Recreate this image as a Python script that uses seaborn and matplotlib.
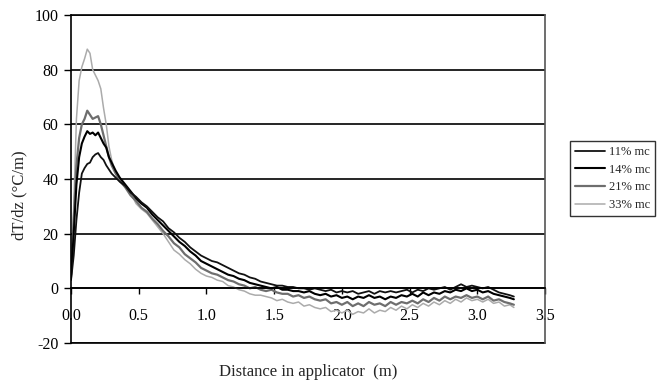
import numpy as np
import pandas as pd
import seaborn as sns
import matplotlib.pyplot as plt

# Temperature gradient along the applicator for four moisture contents
distance = [0.00, 0.02, 0.04, 0.06, 0.08, 0.10, 0.12, 0.14, 0.16, 0.18, 0.20, 0.22, 0.24, 0.26, 0.28, 0.30, 0.33, 0.36,
            0.40, 0.44, 0.48, 0.52, 0.56, 0.60, 0.64, 0.68, 0.72, 0.76, 0.80, 0.84, 0.88, 0.92, 0.96, 1.00,
            1.04, 1.08, 1.12, 1.16, 1.20, 1.24, 1.28, 1.32, 1.36, 1.40, 1.44, 1.48, 1.52, 1.56, 1.60, 1.64, 1.68,
            1.72, 1.76, 1.80, 1.84, 1.88, 1.92, 1.96, 2.00,
            2.04, 2.08, 2.12, 2.16, 2.20, 2.24, 2.28, 2.32, 2.36, 2.40, 2.44, 2.48, 2.52, 2.56, 2.60, 2.64, 2.68,
            2.72, 2.76, 2.80, 2.84, 2.88, 2.92, 2.96, 3.00,
            3.04, 3.08, 3.12, 3.16, 3.20, 3.24, 3.27]

mc11 = [3, 12, 25, 35, 42, 44, 45.5, 46, 48, 49, 49.5, 48, 47, 45, 43.5, 42, 40.5, 39,
        37.5, 35, 33.5, 31.5, 30, 28, 26, 24.5, 22, 20.5, 18.5, 17, 15, 13.5, 12, 11,
        10, 9.5, 8.5, 7.5, 6.5, 5.5, 5, 4, 3.5, 2.5, 2, 1.5, 1, 1, 0.5, 0.5, 0,
        0, -0.5, 0, -0.5, -1, -0.5, -1.5, -1,
        -1.5, -1, -2, -1.5, -1, -2, -1, -1.5, -1, -1.5, -1, -0.5, -1.5, -0.5, -1, 0, -0.5,
        0, 0.5, -0.5, 0.5, 1.5, 0.5, 1, 0.5,
        0, 0.5, -0.5, -1.5, -2, -2.5, -3]

mc14 = [4, 20, 38, 48, 53, 55.5, 57.5, 56.5, 57, 56, 57, 55, 53, 51.5, 48, 46, 43, 40.5,
        38, 35.5, 33, 31, 29.5, 27, 25, 23, 21, 19, 17, 15.5, 13.5, 12, 10, 9,
        8, 7, 6, 5, 4.5, 3.5, 3, 2, 1.5, 1, 0.5, 0, 0.5, -0.5, -0.5, -1, -1,
        -1.5, -1, -2, -2.5, -2, -3, -2.5, -3.5,
        -3, -4, -3, -3.5, -2.5, -3.5, -3, -4, -3, -3.5, -2.5, -3, -2, -3, -1.5, -2.5, -1.5,
        -2, -1, -1.5, -0.5, -1, 0, -1, -0.5,
        -1.5, -1, -2, -2.5, -3, -3.5, -4]

mc21 = [5, 25, 45, 55, 60, 62, 65, 63.5, 62, 62.5, 63, 60, 56, 52, 48, 45, 42, 39.5,
        37, 34, 32, 29.5, 28, 25.5, 23.5, 21, 19, 16.5, 15, 12.5, 11, 9.5, 7.5, 6.5,
        5.5, 5, 4, 3, 2.5, 1.5, 1, 0, 0.5, -0.5, -1, -0.5, -1.5, -2, -2, -3, -2.5,
        -3.5, -3, -4, -4.5, -4, -5.5, -5, -6,
        -5, -6.5, -5.5, -6.5, -5, -6, -5.5, -6.5, -5, -6, -5, -5.5, -4.5, -5.5, -4, -5, -3.5,
        -4.5, -3, -4, -3, -3.5, -2.5, -3.5, -3,
        -4, -3, -4.5, -4, -5, -5.5, -6]

mc33 = [5, 30, 62, 76, 81, 84, 87.5, 86, 80, 78, 76, 73, 66, 60, 52, 47, 42, 39,
        37, 35, 31, 29, 27.5, 25, 22.5, 20, 17, 14, 12.5, 10.5, 9, 7, 5.5, 4.5,
        4, 3, 2.5, 1, 0.5, -0.5, -1, -2, -2.5, -2.5, -3, -3.5, -4.5, -4, -5, -5.5, -5,
        -6.5, -6, -7, -7.5, -7, -8.5, -8, -9,
        -8, -9.5, -8.5, -9, -7.5, -9, -8, -8.5, -7, -8, -6.5, -7.5, -6, -7, -5.5, -6.5, -5,
        -6, -4.5, -5.5, -4, -5, -3.5, -4.5, -4,
        -5, -4, -5.5, -5, -6.5, -6, -7]

series_labels = ["11% mc", "14% mc", "21% mc", "33% mc"]
series_values = [mc11, mc14, mc21, mc33]
line_colors = ["#111111", "#000000", "#6e6e6e", "#ababab"]
line_widths = [1.3, 1.5, 1.6, 1.1]

x_ticks = [0.0, 0.5, 1.0, 1.5, 2.0, 2.5, 3.0, 3.5]
y_ticks = [-20, 0, 20, 40, 60, 80, 100]

df = pd.DataFrame({
    "distance": distance * len(series_labels),
    "dTdz": sum(series_values, []),
    "series": np.repeat(series_labels, len(distance)),
})

sns.set_style("white")
plt.rcParams["font.family"] = ["Liberation Serif", "DejaVu Serif"]

fig = plt.figure(figsize=(6.6, 3.81), dpi=100)
ax = fig.add_axes([0.1076, 0.0997, 0.7182, 0.8609])

# draw the wettest first so the dark curves sit on top
for lab, col, lw in reversed(list(zip(series_labels, line_colors, line_widths))):
    sns.lineplot(data=df[df["series"] == lab], x="distance", y="dTdz",
                 color=col, linewidth=lw, label=lab, ax=ax,
                 estimator=None, sort=False, legend=True)

ax.set_xlim(0, 3.5)
ax.set_ylim(-20, 100)
ax.set_xticks(x_ticks)
ax.set_xticklabels([f"{t:.1f}" for t in x_ticks])
ax.set_yticks(y_ticks)
ax.set_yticklabels([str(t) for t in y_ticks])

ax.yaxis.grid(True, color="black", linewidth=1.2)
ax.xaxis.grid(False)
for yv in (-20, 100):
    ax.axhline(yv, color="black", linewidth=1.2, clip_on=False)

ax.spines["bottom"].set_position(("data", 0))
for name in ("left", "right", "bottom"):
    ax.spines[name].set_color("black")
    ax.spines[name].set_linewidth(1.2)
ax.spines["right"].set_color("#555555")
ax.spines["top"].set_visible(False)

ax.tick_params(axis="x", direction="out", length=4, width=1, pad=10,
               labelsize=11.5, bottom=True, colors="black")
ax.tick_params(axis="y", direction="out", length=5, width=1, pad=4,
               labelsize=11.5, left=True, colors="black")

ax.set_xlabel("Distance in applicator  (m)", fontsize=12)
ax.set_ylabel("dT/dz (°C/m)", fontsize=12)
ax.xaxis.set_label_coords(0.5, -0.065)
ax.yaxis.set_label_coords(-0.092, 0.45)

handles, labels = ax.get_legend_handles_labels()
ax.get_legend().remove()
order = [labels.index(l) for l in series_labels]
leg = fig.legend([handles[i] for i in order], [labels[i] for i in order],
                 loc="upper left", bbox_to_anchor=(570 / 660, 1 - 141 / 381),
                 fontsize=9, frameon=True, fancybox=False, edgecolor="black",
                 handlelength=2.4, handletextpad=0.3, borderpad=0.4,
                 labelspacing=0.45, borderaxespad=0)
leg.get_frame().set_linewidth(1.0)

fig.savefig("out.png", dpi=100)
